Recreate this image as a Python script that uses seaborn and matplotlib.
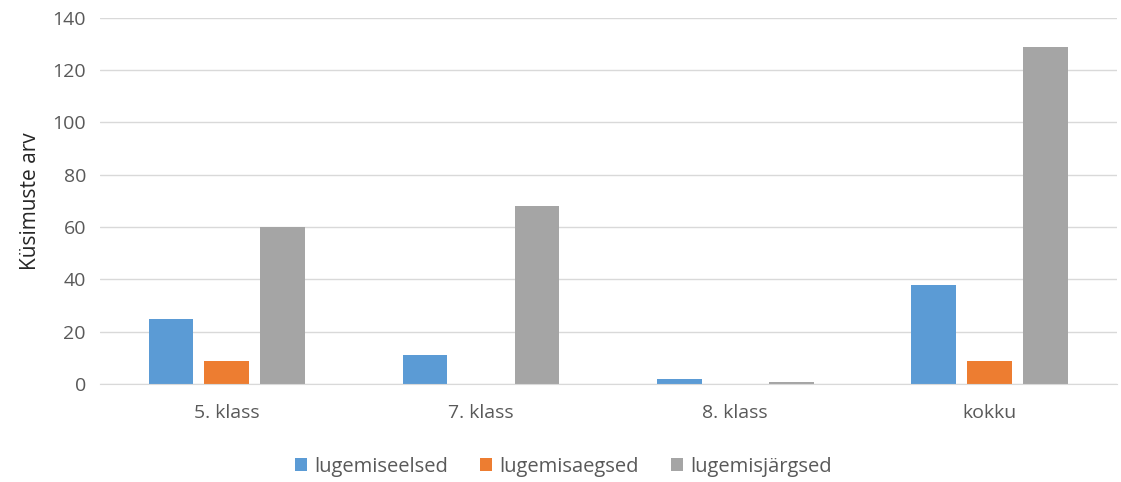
import pandas as pd
import matplotlib.pyplot as plt
import seaborn as sns

classes = ['5. klass', '7. klass', '8. klass', 'kokku']
series = ['lugemiseelsed', 'lugemisaegsed', 'lugemisjärgsed']
lugemiseelsed = [25, 11, 2, 38]
lugemisaegsed = [9, 0, 0, 9]
lugemisjargsed = [60, 68, 1, 129]
colors = ['#5B9BD5', '#ED7D31', '#A5A5A5']

data = pd.DataFrame({
    'klass': classes * 3,
    'tyyp': [s for s in series for _ in classes],
    'arv': lugemiseelsed + lugemisaegsed + lugemisjargsed,
})

sns.set_style('white')
plt.rcParams['font.family'] = ['Open Sans', 'DejaVu Sans']

fig = plt.figure(figsize=(11.21, 4.82), dpi=100)
ax = fig.add_axes([0.089, 0.203, 0.907, 0.76])

sns.barplot(data=data, x='klass', y='arv', hue='tyyp', palette=colors,
            width=0.66, gap=0.2, ax=ax, saturation=1, linewidth=0)

ax.set_ylim(0, 140)
ax.set_yticks(range(0, 141, 20))
ax.yaxis.grid(True, color='#D9D9D9', linewidth=1)
ax.set_axisbelow(True)
for side in ['top', 'right', 'left']:
    ax.spines[side].set_visible(False)
ax.spines['bottom'].set_color('#D9D9D9')
ax.tick_params(axis='y', length=0, labelsize=14, labelcolor='#595959', pad=10)
ax.tick_params(axis='x', length=0, labelsize=14, labelcolor='#595959', pad=14)
ax.set_xlabel('')
ax.set_ylabel('Küsimuste arv', fontsize=15, color='#262626', labelpad=8)

ax.legend(loc='center', bbox_to_anchor=(0.456, -0.225), ncol=3, frameon=False,
          fontsize=14.5, labelcolor='#595959', handlelength=0.6, handleheight=0.6,
          columnspacing=1.6, handletextpad=0.35)

fig.savefig('out.png', dpi=100)
